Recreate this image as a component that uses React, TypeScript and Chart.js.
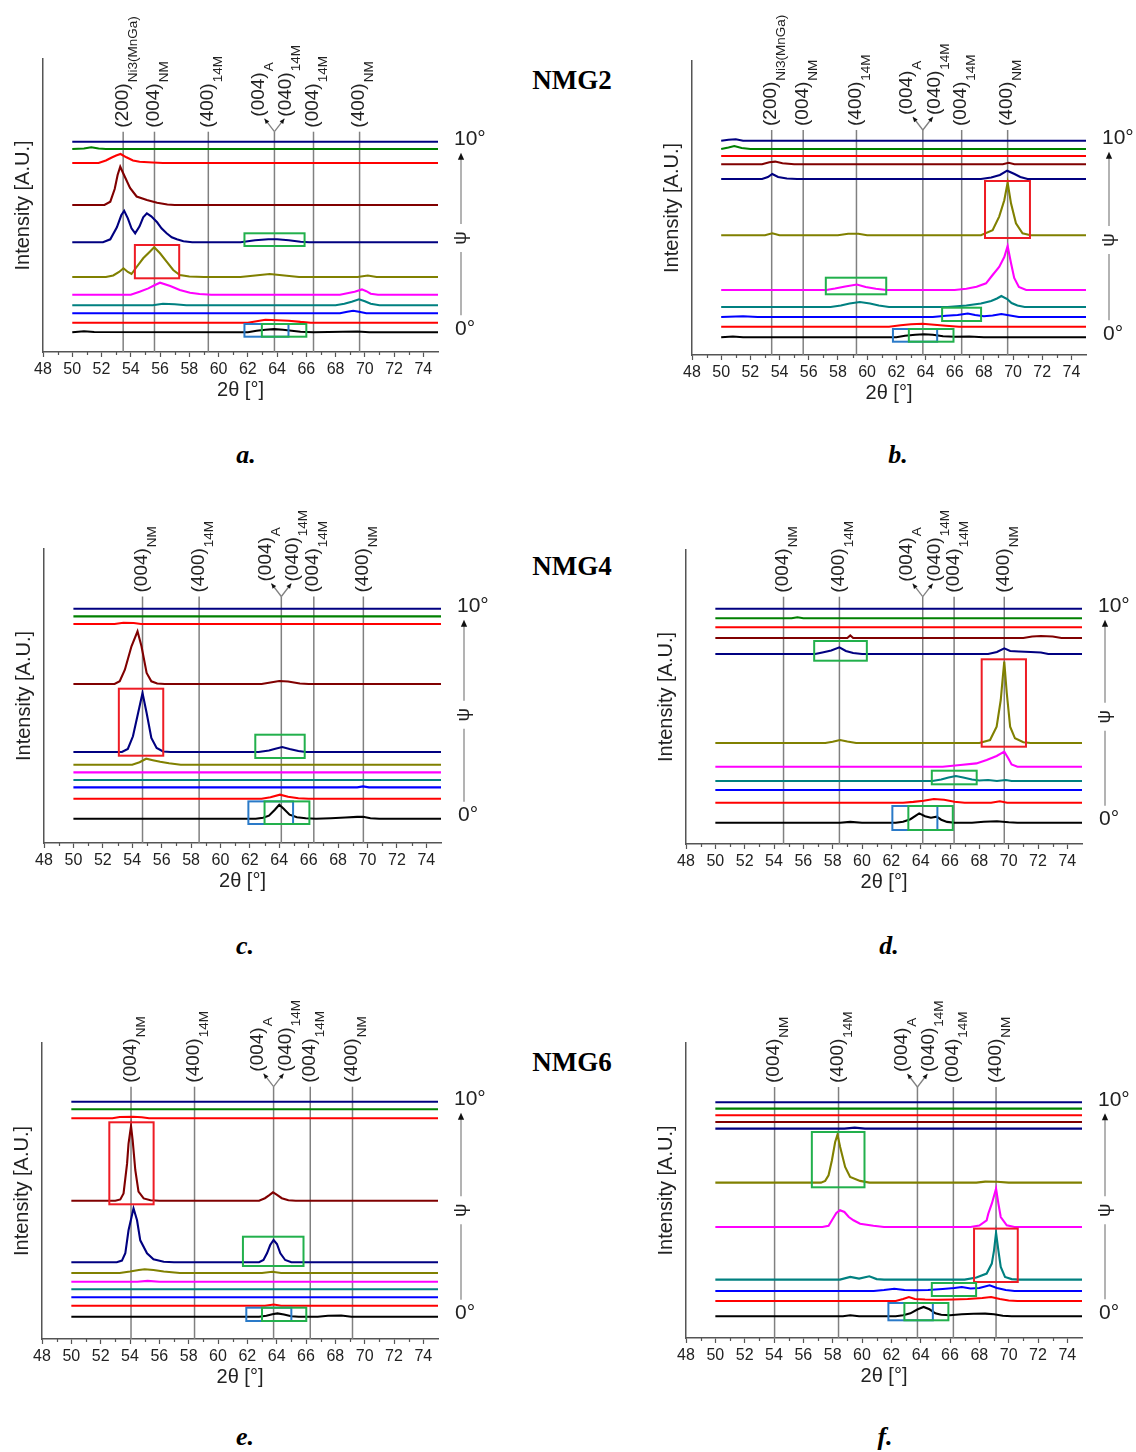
import React, { useEffect, useRef } from 'react';
import { Chart, registerables } from 'chart.js';

Chart.register(...registerables);

const FONT = '"Liberation Sans", Arial, sans-serif';
const TEXT = '#222222';
const AXIS = '#555555';
const REF_LINE = '#808080';
const BOX_COLORS: Record<string, string> = { red: '#ee1c25', green: '#22b04c', blue: '#2a7ac8' };

// trace colours from 0° (bottom) to 10° (top)
const TRACE_COLORS = ['#000000', '#ff0000', '#0000ff', '#008080', '#ff00ff', '#808000', '#000080', '#800000', '#ff0000', '#008000', '#000080'];

const X_TICK_VALUES = [48, 49, 50, 51, 52, 53, 54, 55, 56, 57, 58, 59, 60, 61, 62, 63, 64, 65, 66, 67, 68, 69, 70, 71, 72, 73, 74, 75];
const X_TICK_LABELS = ['48', '50', '52', '54', '56', '58', '60', '62', '64', '66', '68', '70', '72', '74'];

type Pt = [number, number];
type Lbl = [string, string][];
type Box = [number, number, number, number, string];

// ---------- shared peak labels ----------
const LABELS_NMG2: Lbl[] = [
  [['(200)', 'Ni3(MnGa)']],
  [['(004)', 'NM']],
  [['(400)', '14M']],
  [['(004)', 'A'], ['(040)', '14M']],
  [['(004)', '14M']],
  [['(400)', 'NM']],
];
const LABELS_NMG46: Lbl[] = [
  [['(004)', 'NM']],
  [['(400)', '14M']],
  [['(004)', 'A'], ['(040)', '14M']],
  [['(004)', '14M']],
  [['(400)', 'NM']],
];

// ---------- panel a ----------
const A_OFFSETS = [19.7, 29.3, 38.7, 46.7, 57.3, 75, 109.7, 147, 189, 203, 210.3];
const A_TRACES: Pt[][] = [
  [[50, 0], [50.8, 1], [51.5, 0.3], [62, 0], [62.6, 1.5], [63.2, 2.5], [63.8, 3.2], [64.4, 2.5], [65, 1.5], [65.6, 0.5], [66.5, 0], [68.5, 0.6], [69.5, 0.8], [70.3, 0], [75, 0]],
  [[50, 0], [62, 0], [62.6, 1.5], [63.2, 3], [64, 2.5], [64.8, 2], [65.6, 0.8], [66.3, 0], [75, 0]],
  [[50, 0], [68.3, 0], [68.8, 1.5], [69.2, 2.5], [69.6, 1.5], [70.1, 0], [75, 0]],
  [[50, 0], [55.5, 0], [56.2, 1.5], [57, 1], [57.8, 0], [68, 0], [68.6, 1.5], [69.1, 3.5], [69.6, 6], [70, 4], [70.4, 1.5], [71, 0], [75, 0]],
  [[50, 0], [54, 0], [54.6, 3], [55.2, 6.3], [55.65, 9.7], [56, 12], [56.7, 8.7], [57.35, 4.7], [58.05, 2], [58.7, 0.7], [59.5, 0], [68.3, 0], [68.8, 1.5], [69.3, 3], [69.8, 5.3], [70.1, 3.5], [70.4, 1], [70.9, 0], [75, 0]],
  [[50, 0], [52.3, 0], [52.8, 1.5], [53.2, 5], [53.5, 8.7], [53.8, 5], [54.05, 3], [54.4, 10], [54.85, 18.7], [55.3, 25.3], [55.6, 29.7], [56, 23.7], [56.45, 15.3], [56.9, 7], [57.35, 2], [58, 0.5], [59, 0], [61.5, 0], [62.5, 1.5], [63.5, 3], [64.5, 1.5], [65.5, 0], [69.5, 0], [70.2, 1.5], [70.8, 0], [75, 0]],
  [[50, 0], [52.1, 0], [52.6, 3], [53.05, 15], [53.35, 27], [53.55, 31.5], [53.8, 24], [54.05, 14], [54.3, 9], [54.6, 16], [54.85, 25], [55.1, 29], [55.4, 26], [55.8, 20], [56.1, 14], [56.45, 9], [56.8, 5], [57.15, 3], [57.6, 1], [58.2, 0], [61.5, 0], [62.5, 2], [63.4, 3], [64, 3], [64.8, 2], [65.6, 0.5], [66.2, 0], [75, 0]],
  [[50, 0], [52.2, 0], [52.6, 3.3], [52.9, 16], [53.1, 30], [53.28, 38.3], [53.6, 28], [53.95, 17], [54.4, 8.5], [55.1, 5], [55.8, 2.3], [56.5, 0.5], [57, 0], [75, 0]],
  [[50, 0], [51.8, 0], [52.3, 2.5], [52.7, 5.5], [53, 7.5], [53.3, 9], [53.7, 5.7], [54.15, 2.5], [54.6, 1.3], [55.5, 0.5], [56.2, 0], [75, 0]],
  [[50, 0], [50.8, 0.5], [51.3, 1.8], [51.8, 0.5], [52.3, 0], [75, 0]],
  [[50, 0], [75, 0]],
];
const A_LINES = [53.48, 55.62, 59.3, 63.82, 66.49, 69.64];
const A_BOXES: Box[] = [[54.28, 57.31, 107, 73.7, 'red'], [61.77, 65.88, 118.7, 106, 'green'], [61.77, 64.78, 28, 15.3, 'blue'], [62.96, 66.0, 28, 15.3, 'green']];

// ---------- panel b ----------
const B_OFFSETS = [17.7, 28.3, 38, 48, 65, 119.7, 176, 190.7, 199, 206, 214.3];
const B_TRACES: Pt[][] = [
  [[50, 0], [50.8, 0.8], [51.5, 0], [62, 0], [62.6, 1.5], [63.3, 2.5], [63.9, 3], [64.5, 2.5], [65.2, 1], [66, 0.5], [67, 0.8], [68, 0], [75, 0]],
  [[50, 0], [61.5, 0], [62.3, 1.5], [63, 2.5], [63.8, 3], [64.6, 2], [65.4, 1], [66.3, 0], [75, 0]],
  [[50, 0], [51.5, 0.8], [52.5, 0], [64.5, 0], [65.4, 1.2], [66.2, 2], [66.9, 3.5], [67.4, 2], [68, 0.8], [68.6, 1.5], [69.2, 3], [69.8, 1.5], [70.4, 0], [75, 0]],
  [[50, 0], [57.5, 0], [58.2, 1.5], [58.8, 3.5], [59.5, 5], [60.2, 3.5], [60.8, 1.5], [61.5, 0], [65.5, 0], [66.8, 1.5], [67.8, 3.5], [68.5, 6], [68.9, 8.5], [69.2, 11], [69.6, 8], [69.9, 4], [70.3, 1.5], [70.8, 0], [75, 0]],
  [[50, 0], [57.2, 0], [57.8, 1.5], [58.5, 3.5], [59.3, 5.5], [59.9, 3], [60.6, 1.2], [61.3, 0], [66, 0], [66.8, 1.3], [67.5, 3.3], [68.15, 6.7], [68.6, 15], [69.05, 23], [69.4, 33], [69.63, 44], [69.86, 27], [70.08, 12], [70.4, 3], [70.9, 0], [75, 0]],
  [[50, 0], [53, 0], [53.5, 2], [54, 0], [58, 0], [58.7, 1.5], [59.4, 1.5], [60, 0], [67.8, 0], [68.6, 5], [69.05, 18.7], [69.4, 35], [69.63, 52.7], [69.86, 32], [70.2, 12], [70.65, 2], [71.2, 0], [75, 0]],
  [[50, 0], [52.8, 0], [53.2, 2], [53.5, 5], [53.9, 2], [54.5, 0.5], [55.2, 0], [67.8, 0], [68.5, 1.5], [69.1, 4], [69.6, 8.3], [70.1, 5], [70.5, 2], [71, 0], [75, 0]],
  [[50, 0], [52.8, 0], [53.3, 2], [53.7, 2.7], [54.2, 1], [55, 0], [69.3, 0], [69.7, 1.5], [70.1, 0], [75, 0]],
  [[50, 0], [75, 0]],
  [[50, 0], [50.5, 1.5], [50.9, 3], [51.4, 1], [52, 0], [75, 0]],
  [[50, 0], [50.5, 1], [51, 1.5], [51.5, 0], [75, 0]],
];
const B_LINES = [53.46, 55.62, 59.27, 63.82, 66.48, 69.63];
const B_BOXES: Box[] = [[68.08, 71.16, 174, 117, 'red'], [57.17, 61.31, 77.3, 60.7, 'green'], [65.14, 67.81, 47.3, 34, 'green'], [61.77, 64.8, 26, 13.3, 'blue'], [62.86, 65.92, 26, 13.3, 'green']];

// ---------- panel c ----------
const C_OFFSETS = [24.3, 44.3, 55.6, 63, 70.6, 78.3, 91, 159, 219, 226.6, 234.3];
const C_TRACES: Pt[][] = [
  [[50, 0], [62.4, 0], [62.9, 1], [63.3, 3], [63.7, 9], [64, 14], [64.3, 10], [64.7, 4], [65.2, 1.5], [65.8, 0.5], [66.5, 0], [67.5, 0.5], [68.5, 1.2], [69.3, 1.8], [69.7, 2], [70.2, 0.5], [70.8, 0], [75, 0]],
  [[50, 0], [62.8, 0], [63.4, 1.5], [64.05, 4], [64.6, 2], [65.3, 0.5], [66, 0], [75, 0]],
  [[50, 0], [69.3, 0], [69.7, 1], [70.1, 0], [75, 0]],
  [[50, 0], [75, 0]],
  [[50, 0], [75, 0]],
  [[50, 0], [54, 0], [54.5, 2.5], [54.95, 6], [55.4, 4.5], [55.9, 3], [56.5, 1.5], [57.3, 0], [75, 0]],
  [[50, 0], [53.3, 0], [53.7, 3], [54.05, 15.7], [54.4, 39], [54.7, 59], [54.98, 39], [55.3, 14], [55.66, 4], [56.1, 0.5], [56.6, 0], [62.6, 0], [63.3, 1.5], [63.8, 3.5], [64.2, 5], [64.7, 3], [65.3, 1], [65.8, 0], [75, 0]],
  [[50, 0], [52.8, 0], [53.15, 2.7], [53.5, 14.3], [53.95, 37.7], [54.36, 52.7], [54.63, 37.7], [54.98, 11], [55.3, 2.7], [55.7, 0.5], [56.2, 0], [62.8, 0], [63.4, 1.5], [64, 3], [64.6, 2.5], [65.4, 0.5], [66, 0], [75, 0]],
  [[50, 0], [52.8, 0], [53.4, 1.2], [54.1, 1], [54.6, 0], [75, 0]],
  [[50, 0], [75, 0]],
  [[50, 0], [75, 0]],
];
const C_LINES = [54.7, 58.55, 64.14, 66.35, 69.72];
const C_BOXES: Box[] = [[53.09, 56.11, 154.3, 87.3, 'red'], [62.37, 65.73, 108.3, 85, 'green'], [61.9, 64.94, 41.6, 19, 'blue'], [63.0, 66.05, 41.6, 19, 'green']];

// ---------- panel d ----------
const D_OFFSETS = [21.3, 41.3, 54, 63, 77.3, 101, 190, 206, 216.7, 225.7, 235.3];
const D_TRACES: Pt[][] = [
  [[50, 0], [58.5, 0], [59.2, 0.8], [60, 0], [62.3, 0], [62.8, 1], [63.3, 3.5], [63.9, 9.3], [64.3, 6.5], [64.7, 5], [65.1, 6], [65.4, 3], [65.8, 0.8], [66.3, 0], [67.5, 0], [68.3, 1], [69.2, 1.5], [70, 0.5], [70.6, 0], [75, 0]],
  [[50, 0], [62.8, 0], [63.5, 0.8], [64.2, 2], [64.9, 3.7], [65.6, 3], [66.3, 1], [67, 0], [68.8, 0], [69.4, 1.5], [69.9, 0], [75, 0]],
  [[50, 0], [75, 0]],
  [[50, 0], [64.8, 0], [65.4, 1.5], [65.9, 3.5], [66.4, 5], [66.9, 3.5], [67.5, 1.5], [68, 0.5], [68.6, 1], [69.2, 0], [69.8, 1], [70.2, 0], [75, 0]],
  [[50, 0], [65.5, 0], [66.7, 1.7], [67.8, 3.3], [68.5, 6.7], [69.18, 10.7], [69.7, 15], [69.98, 8.3], [70.2, 2.3], [70.6, 0], [75, 0]],
  [[50, 0], [57.5, 0], [58, 1.2], [58.5, 3], [59, 1.5], [59.6, 0], [68, 0], [68.73, 3], [69.18, 16.3], [69.46, 43], [69.6, 66], [69.7, 81.3], [69.87, 50], [70.1, 16.3], [70.43, 4.7], [71, 0.7], [71.5, 0], [75, 0]],
  [[50, 0], [56.8, 0], [57.3, 1.5], [57.9, 3.5], [58.46, 6.7], [58.9, 3], [59.4, 1], [60, 0], [68.6, 0], [69.2, 2], [69.7, 5.7], [70.1, 3], [70.7, 2.5], [71.5, 2], [72.2, 1.5], [72.7, 0], [75, 0]],
  [[50, 0], [59, 0], [59.2, 2.5], [59.4, 0], [71, 0], [71.6, 1.5], [72.2, 2], [73, 1.5], [73.6, 0], [75, 0]],
  [[50, 0], [75, 0]],
  [[50, 0], [55.2, 0], [55.6, 1], [56, 0], [75, 0]],
  [[50, 0], [75, 0]],
];
const D_LINES = [54.65, 58.46, 64.14, 66.28, 69.7];
const D_BOXES: Box[] = [[68.16, 71.18, 184.7, 97.3, 'red'], [56.74, 60.33, 203, 183.3, 'green'], [64.76, 67.82, 73.3, 59.7, 'green'], [62.07, 65.14, 38, 14, 'blue'], [63.16, 66.19, 38, 14, 'green']];

// ---------- panel e ----------
const E_OFFSETS = [22.3, 33.3, 41.7, 49.7, 57.3, 66, 76.7, 138.3, 220.7, 229.7, 237.3];
const E_TRACES: Pt[][] = [
  [[50, 0], [62.8, 0], [63.3, 1], [63.7, 2.5], [64.05, 3.3], [64.5, 2.2], [65, 0.5], [65.5, 0], [66.8, 0], [67.5, 1], [68.4, 1.2], [69.1, 0], [75, 0]],
  [[50, 0], [63.2, 0], [63.8, 1.2], [64.3, 0], [75, 0]],
  [[50, 0], [75, 0]],
  [[50, 0], [75, 0]],
  [[50, 0], [54.5, 0], [55.2, 0.8], [56, 0], [75, 0]],
  [[50, 0], [53.3, 0], [54, 1.5], [54.6, 3], [55, 3.7], [55.6, 3], [56.3, 1.5], [57.4, 0], [63, 0], [63.7, 1.2], [64.3, 0], [75, 0]],
  [[50, 0], [53.1, 0], [53.45, 1.7], [53.68, 9], [53.9, 32], [54.24, 54], [54.48, 42], [54.7, 22], [55.16, 9], [55.6, 3], [56.3, 0.5], [57, 0], [62.8, 0], [63.1, 2.3], [63.34, 9], [63.56, 17.3], [63.79, 22.3], [64.02, 18.3], [64.25, 9], [64.58, 2.3], [65, 0], [75, 0]],
  [[50, 0], [53, 0], [53.34, 1.3], [53.56, 7.3], [53.8, 37], [53.9, 57], [54.07, 74.7], [54.18, 60.7], [54.36, 30.7], [54.58, 9], [54.93, 2.3], [55.4, 0.5], [56, 0], [62.8, 0], [63.2, 2.5], [63.5, 5.5], [63.75, 8.3], [64, 6], [64.35, 2.5], [64.8, 0.5], [65.3, 0], [75, 0]],
  [[50, 0], [52.8, 0], [53.3, 1.3], [54.2, 1.5], [54.8, 1], [55.3, 0], [75, 0]],
  [[50, 0], [75, 0]],
  [[50, 0], [75, 0]],
];
const E_LINES = [54.07, 58.4, 63.79, 66.29, 69.17];
const E_BOXES: Box[] = [[52.59, 55.61, 216.7, 134.7, 'red'], [61.7, 65.83, 102.3, 73, 'green'], [61.93, 65.0, 31.3, 18, 'blue'], [63.0, 66.02, 31.3, 18, 'green']];

// ---------- panel f ----------
const F_OFFSETS = [21.7, 37, 47, 58.4, 111, 155.4, 209.4, 216, 222.7, 229.4, 235.7];
const F_TRACES: Pt[][] = [
  [[50, 0], [58.7, 0], [59.2, 1], [59.8, 0], [62.3, 0], [62.8, 1], [63.3, 3], [63.8, 7], [64.2, 9.3], [64.6, 7], [65, 3], [65.4, 1.5], [66, 1], [66.8, 2], [67.6, 2.5], [68.4, 2.7], [69, 2], [69.6, 0.5], [70.2, 0], [75, 0]],
  [[50, 0], [62.3, 0], [62.8, 2], [63.2, 4], [63.6, 2], [64.3, 1.5], [65.2, 1.2], [66.2, 1.5], [67.2, 2], [68.2, 3], [68.8, 4], [69.4, 2], [70, 0.5], [70.6, 0], [75, 0]],
  [[50, 0], [60.8, 0], [61.5, 1], [62.2, 2.3], [62.9, 1], [63.6, 0.8], [64.5, 1], [65.5, 2], [66.3, 3], [66.8, 4], [67.4, 2.5], [68, 3], [68.7, 5.7], [69.2, 3], [69.8, 1], [70.4, 0], [75, 0]],
  [[50, 0], [58.5, 0], [59.2, 2.7], [59.8, 1], [60.5, 3.3], [61, 0.5], [61.5, 0], [67, 0], [67.8, 2], [68.5, 6], [68.85, 16], [69, 29], [69.14, 47], [69.3, 29], [69.46, 12.7], [69.75, 2.7], [70.2, 0.5], [70.7, 0], [75, 0]],
  [[50, 0], [57.3, 0], [57.72, 1.3], [57.95, 6.7], [58.25, 14], [58.5, 16.7], [58.8, 15], [59.1, 10], [59.42, 6.7], [59.87, 3.3], [60.78, 1.3], [61.5, 0], [67.4, 0], [68, 1.5], [68.5, 6.7], [68.61, 13.3], [68.85, 23.3], [69.14, 38.3], [69.3, 23.3], [69.46, 10], [69.87, 1.7], [70.4, 0], [75, 0]],
  [[50, 0], [57.2, 0], [57.49, 1.7], [57.72, 7.3], [57.95, 22.3], [58.17, 40.6], [58.33, 48], [58.51, 35.7], [58.85, 15.7], [59.19, 5.7], [59.87, 1.7], [60.5, 0], [67.8, 0], [68.4, 1], [69.2, 0.8], [70, 0], [75, 0]],
  [[50, 0], [58.8, 0], [59.5, 1], [60.2, 0], [75, 0]],
  [[50, 0], [75, 0]],
  [[50, 0], [75, 0]],
  [[50, 0], [75, 0]],
  [[50, 0], [75, 0]],
];
const F_LINES = [54.04, 58.4, 63.78, 66.23, 69.14];
const F_BOXES: Box[] = [[56.58, 60.17, 206, 150.7, 'green'], [67.64, 70.62, 109.4, 56, 'red'], [64.76, 67.78, 55, 42, 'green'], [61.8, 64.83, 35, 17.7, 'blue'], [62.89, 65.89, 35, 17.7, 'green']];

// ---------- layout ----------
type Panel = {
  id: string; left: number; top: number; width: number; height: number; lineTop: number;
  offsets: number[]; traces: Pt[][]; lines: number[]; labels: Lbl[]; boxes: Box[];
};

const PANELS: Panel[] = [
  { id: 'a', left: 43, top: 59, width: 395, height: 293, lineTop: 220.3, offsets: A_OFFSETS, traces: A_TRACES, lines: A_LINES, labels: LABELS_NMG2, boxes: A_BOXES },
  { id: 'b', left: 692, top: 61, width: 394, height: 294, lineTop: 225, offsets: B_OFFSETS, traces: B_TRACES, lines: B_LINES, labels: LABELS_NMG2, boxes: B_BOXES },
  { id: 'c', left: 44, top: 549, width: 397, height: 294, lineTop: 246.5, offsets: C_OFFSETS, traces: C_TRACES, lines: C_LINES, labels: LABELS_NMG46, boxes: C_BOXES },
  { id: 'd', left: 686, top: 550, width: 396, height: 294, lineTop: 247.3, offsets: D_OFFSETS, traces: D_TRACES, lines: D_LINES, labels: LABELS_NMG46, boxes: D_BOXES },
  { id: 'e', left: 42, top: 1043, width: 396, height: 296, lineTop: 252.3, offsets: E_OFFSETS, traces: E_TRACES, lines: E_LINES, labels: LABELS_NMG46, boxes: E_BOXES },
  { id: 'f', left: 686, top: 1043, width: 396, height: 295, lineTop: 251, offsets: F_OFFSETS, traces: F_TRACES, lines: F_LINES, labels: LABELS_NMG46, boxes: F_BOXES },
];

const PAD_L = 40;
const PAD_T = 56;
const PAD_R = 50;
const PAD_B = 56;

const SAMPLE_TITLES = [
  { text: 'NMG2', x: 572, y: 80 },
  { text: 'NMG4', x: 572, y: 566 },
  { text: 'NMG6', x: 572, y: 1062 },
];
const PANEL_LETTERS = [
  { text: 'a.', x: 246, y: 455 },
  { text: 'b.', x: 898, y: 455 },
  { text: 'c.', x: 245, y: 946 },
  { text: 'd.', x: 889, y: 946 },
  { text: 'e.', x: 245, y: 1437 },
  { text: 'f.', x: 885, y: 1437 },
];

function drawRotLabel(ctx: CanvasRenderingContext2D, baseX: number, startY: number, main: string, sub: string) {
  ctx.save();
  ctx.translate(baseX, startY);
  ctx.rotate(-Math.PI / 2);
  ctx.fillStyle = TEXT;
  ctx.textAlign = 'left';
  ctx.textBaseline = 'alphabetic';
  ctx.font = `19px ${FONT}`;
  ctx.fillText(main, 0, 0);
  const w = ctx.measureText(main).width;
  ctx.font = `13.5px ${FONT}`;
  ctx.fillText(sub, w + 1, 9);
  ctx.restore();
}

function arrowHead(ctx: CanvasRenderingContext2D, tx: number, ty: number, dx: number, dy: number, size: number) {
  const len = Math.hypot(dx, dy);
  const ux = dx / len, uy = dy / len;
  const px = -uy, py = ux;
  ctx.beginPath();
  ctx.moveTo(tx, ty);
  ctx.lineTo(tx - ux * size + px * size * 0.45, ty - uy * size + py * size * 0.45);
  ctx.lineTo(tx - ux * size - px * size * 0.45, ty - uy * size - py * size * 0.45);
  ctx.closePath();
  ctx.fill();
}

function makeDecor(p: Panel) {
  return {
    id: 'xrdDecor' + p.id,
    beforeDatasetsDraw(chart: any) {
      const { ctx, chartArea } = chart;
      const xs = chart.scales.x;
      const ys = chart.scales.y;
      ctx.save();
      // minor ticks
      ctx.strokeStyle = AXIS;
      ctx.lineWidth = 1.2;
      X_TICK_VALUES.forEach((v) => {
        if (X_TICK_LABELS.includes(String(v)) || v >= 75) return;
        const px = Math.round(xs.getPixelForValue(v)) + 0.5;
        ctx.beginPath();
        ctx.moveTo(px, chartArea.bottom);
        ctx.lineTo(px, chartArea.bottom + 3);
        ctx.stroke();
      });
      // reference lines
      const topPx = ys.getPixelForValue(p.lineTop);
      ctx.strokeStyle = REF_LINE;
      ctx.lineWidth = 1.5;
      p.lines.forEach((v) => {
        const px = xs.getPixelForValue(v);
        ctx.beginPath();
        ctx.moveTo(px, chartArea.bottom);
        ctx.lineTo(px, topPx);
        ctx.stroke();
      });
      ctx.restore();
    },
    afterDatasetsDraw(chart: any) {
      const { ctx, chartArea } = chart;
      const xs = chart.scales.x;
      const ys = chart.scales.y;
      ctx.save();
      // boxes
      ctx.lineWidth = 2;
      p.boxes.forEach(([x1, x2, yt, yb, c]) => {
        const l = xs.getPixelForValue(x1);
        const r = xs.getPixelForValue(x2);
        const t = ys.getPixelForValue(yt);
        const b = ys.getPixelForValue(yb);
        ctx.strokeStyle = BOX_COLORS[c];
        ctx.strokeRect(l, t, r - l, b - t);
      });
      // peak labels
      const topPx = ys.getPixelForValue(p.lineTop);
      p.lines.forEach((v, i) => {
        const lab = p.labels[i];
        const px = xs.getPixelForValue(v);
        if (lab.length === 1) {
          drawRotLabel(ctx, px + 4.5, topPx - 4, lab[0][0], lab[0][1]);
        } else {
          ctx.strokeStyle = REF_LINE;
          ctx.fillStyle = '#111';
          ctx.lineWidth = 1.3;
          [-1, 1].forEach((s) => {
            const ex = px + s * 10;
            const ey = topPx - 13;
            ctx.beginPath();
            ctx.moveTo(px, topPx);
            ctx.lineTo(ex, ey);
            ctx.stroke();
            arrowHead(ctx, ex, ey, s * 10, -13, 5);
          });
          drawRotLabel(ctx, px - 10.5, topPx - 15, lab[0][0], lab[0][1]);
          drawRotLabel(ctx, px + 17, topPx - 15, lab[1][0], lab[1][1]);
        }
      });
      // psi arrow and angle labels
      const topTrace = ys.getPixelForValue(p.offsets[p.offsets.length - 1]);
      const botTrace = ys.getPixelForValue(p.offsets[0]);
      const ax = chartArea.right + 23;
      const tipY = topTrace + 11;
      const endY = botTrace - 17;
      const midY = (tipY + endY) / 2 + 4;
      ctx.strokeStyle = '#9a9a9a';
      ctx.lineWidth = 1.5;
      ctx.beginPath();
      ctx.moveTo(ax, tipY + 5);
      ctx.lineTo(ax, midY - 14);
      ctx.moveTo(ax, midY + 14);
      ctx.lineTo(ax, endY);
      ctx.stroke();
      ctx.fillStyle = '#111';
      arrowHead(ctx, ax, tipY, 0, -1, 7);
      ctx.save();
      ctx.translate(ax, midY);
      ctx.rotate(-Math.PI / 2);
      ctx.fillStyle = TEXT;
      ctx.font = `19px ${FONT}`;
      ctx.textAlign = 'center';
      ctx.textBaseline = 'middle';
      ctx.fillText('ψ', 0, 0);
      ctx.restore();
      ctx.fillStyle = TEXT;
      ctx.font = `21px ${FONT}`;
      ctx.textAlign = 'left';
      ctx.textBaseline = 'middle';
      ctx.fillText('10°', chartArea.right + 16, topTrace - 2);
      ctx.fillText('0°', chartArea.right + 17, botTrace - 3);
      ctx.restore();
    },
  };
}

function PanelChart({ panel }: { panel: Panel }) {
  const ref = useRef<HTMLCanvasElement | null>(null);
  const cw = PAD_L + panel.width + PAD_R;
  const ch = PAD_T + panel.height + PAD_B;
  useEffect(() => {
    if (!ref.current) return;
    const datasets = panel.traces.map((pts, i) => ({
      data: pts.map(([x, h]) => ({ x, y: panel.offsets[i] + h })),
      borderColor: TRACE_COLORS[i],
      backgroundColor: TRACE_COLORS[i],
      borderWidth: 2.1,
      pointRadius: 0,
      tension: 0,
      fill: false,
    }));
    const chart = new Chart(ref.current, {
      type: 'line',
      data: { datasets },
      options: {
        animation: false,
        responsive: false,
        maintainAspectRatio: false,
        events: [],
        layout: { padding: { left: PAD_L - 36, top: PAD_T, right: PAD_R, bottom: PAD_B - 54 } },
        plugins: { legend: { display: false }, tooltip: { enabled: false }, title: { display: false } },
        scales: {
          x: {
            type: 'linear',
            min: 48,
            max: 75,
            afterBuildTicks: (s: any) => {
              s.ticks = X_TICK_VALUES.map((v) => ({ value: v }));
            },
            afterFit: (s: any) => {
              s.height = 54;
            },
            ticks: {
              autoSkip: false,
              maxRotation: 0,
              padding: 3,
              color: TEXT,
              font: { family: FONT, size: 16 },
              callback: (v: any) => (X_TICK_LABELS.includes(String(v)) ? String(v) : ''),
            },
            grid: {
              drawOnChartArea: false,
              drawTicks: true,
              tickLength: 5,
              tickWidth: 1.2,
              tickColor: (c: any) => (c.tick && X_TICK_LABELS.includes(String(c.tick.value)) ? AXIS : 'rgba(0,0,0,0)'),
            },
            border: { display: true, color: AXIS, width: 1.5 },
            title: { display: true, text: '2θ [°]', color: TEXT, font: { family: FONT, size: 20 }, padding: { top: 0, bottom: 4 } },
          },
          y: {
            type: 'linear',
            min: 0,
            max: panel.height,
            afterFit: (s: any) => {
              s.width = 36;
            },
            ticks: { display: false },
            grid: { display: false, drawTicks: false },
            border: { display: true, color: AXIS, width: 1.5 },
            title: { display: true, text: 'Intensity [A.U.]', color: TEXT, font: { family: FONT, size: 20 }, padding: { top: 4, bottom: 0 } },
          },
        },
      } as any,
      plugins: [makeDecor(panel)],
    });
    return () => chart.destroy();
  }, [panel]);
  return (
    <canvas
      ref={ref}
      width={cw}
      height={ch}
      style={{ position: 'absolute', left: panel.left - PAD_L, top: panel.top - PAD_T, width: cw, height: ch }}
    />
  );
}

export default function App() {
  return (
    <div style={{ position: 'absolute', left: 0, top: 0, width: 1136, height: 1452, background: '#ffffff', overflow: 'hidden' }}>
      {PANELS.map((p) => (
        <PanelChart key={p.id} panel={p} />
      ))}
      {SAMPLE_TITLES.map((t) => (
        <div
          key={t.text}
          style={{
            position: 'absolute', left: t.x, top: t.y, transform: 'translate(-50%, -50%)',
            fontFamily: '"Liberation Serif", "Times New Roman", serif', fontWeight: 'bold', fontSize: 27, color: '#000', whiteSpace: 'nowrap', lineHeight: 1,
          }}
        >
          {t.text}
        </div>
      ))}
      {PANEL_LETTERS.map((t) => (
        <div
          key={t.text}
          style={{
            position: 'absolute', left: t.x, top: t.y, transform: 'translate(-50%, -50%)',
            fontFamily: '"Liberation Serif", "Times New Roman", serif', fontWeight: 'bold', fontStyle: 'italic', fontSize: 26, color: '#000', whiteSpace: 'nowrap', lineHeight: 1,
          }}
        >
          {t.text}
        </div>
      ))}
    </div>
  );
}
